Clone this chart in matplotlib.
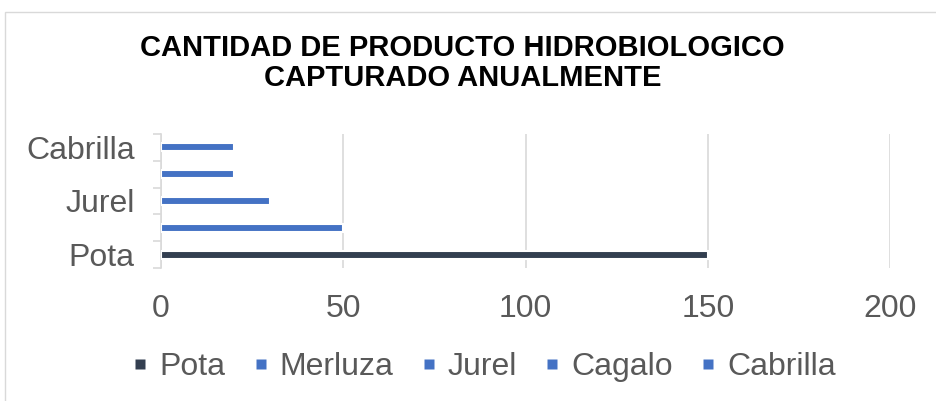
import matplotlib

matplotlib.use('Agg')
import matplotlib.pyplot as plt
from matplotlib.lines import Line2D
from matplotlib.patches import Rectangle

plt.rcParams['font.family'] = ['Liberation Sans', 'DejaVu Sans']

# data
categories = ['Pota', 'Merluza', 'Jurel', 'Cagalo', 'Cabrilla']
values = [150, 50, 30, 20, 20]
colors = ['#333F50', '#4472C4', '#4472C4', '#4472C4', '#4472C4']
xticks = [0, 50, 100, 150, 200]
title = 'CANTIDAD DE PRODUCTO HIDROBIOLOGICO\nCAPTURADO ANUALMENTE'

W, H = 936, 401
fig = plt.figure(figsize=(W / 100, H / 100), dpi=100)
ax = fig.add_axes([161 / W, 1 - 268 / H, (890 - 161) / W, (268 - 134) / H])

pos = list(range(len(categories)))
ax.barh(pos, values, height=0.3, color=colors, edgecolor='white', linewidth=1.5, zorder=3)

ax.set_xlim(0, 200)
ax.set_ylim(-0.5, len(categories) - 0.5)
ax.set_xticks(xticks)
ax.set_xticklabels([str(v) for v in xticks])
ax.grid(axis='x', color='#D9D9D9', linewidth=1.2, zorder=0)

# every other category label, boundary ticks on the left
ax.set_yticks(pos[::2])
ax.set_yticklabels(categories[::2])
ax.set_yticks([p - 0.5 for p in pos] + [pos[-1] + 0.5], minor=True)
ax.tick_params(axis='y', which='major', length=0, pad=19, labelsize=23, labelcolor='#595959')
ax.tick_params(axis='y', which='minor', length=6, color='#D9D9D9', width=1.2)
ax.tick_params(axis='x', length=0, pad=19, labelsize=23, labelcolor='#595959')

for side in ('top', 'right', 'bottom'):
    ax.spines[side].set_visible(False)
ax.spines['left'].set_color('#D9D9D9')
ax.spines['left'].set_linewidth(1.2)

fig.text(0.494, 1 - 63 / H, title, ha='center', va='center', fontsize=21,
         fontweight='bold', color='black', linespacing=1.1)

handles = [Line2D([], [], linestyle='none', marker='s', markersize=7,
                  markerfacecolor=c, markeredgecolor='none') for c in colors]
fig.legend(handles, categories, loc='center', bbox_to_anchor=(0.519, 1 - 367 / H),
           ncol=5, frameon=False, fontsize=23, labelcolor='#595959',
           handlelength=0.3, handletextpad=0.45, columnspacing=0.95)

fig.patches.append(Rectangle((5 / W, -0.1), 1.2, 1 - 12 / H + 0.1, transform=fig.transFigure,
                             fill=False, edgecolor='#D9D9D9', linewidth=1))

fig.savefig('out.png', dpi=100)
